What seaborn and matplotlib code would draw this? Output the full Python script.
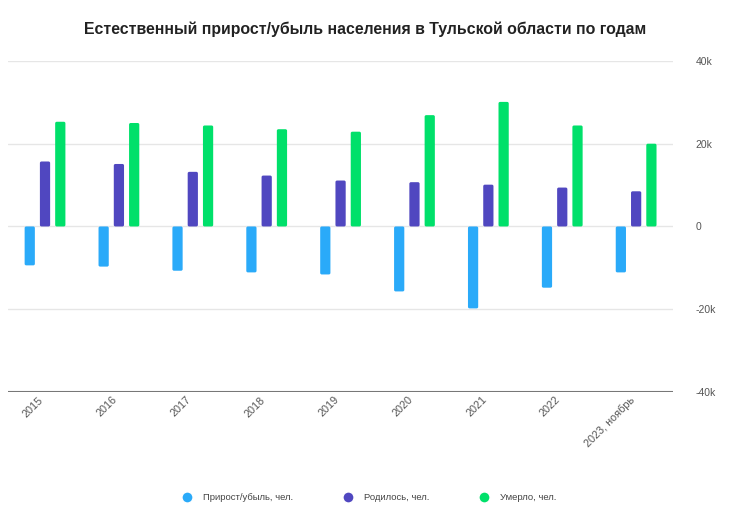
import pandas as pd
import matplotlib.pyplot as plt
import matplotlib.transforms as mtransforms
import seaborn as sns
from matplotlib.lines import Line2D
from matplotlib.patches import FancyBboxPatch

# Данные (чел.)
years = ["2015", "2016", "2017", "2018", "2019", "2020", "2021", "2022", "2023, ноябрь"]
growth = [-9400, -9700, -10700, -11100, -11600, -15700, -19800, -14800, -11100]
births = [15700, 15100, 13200, 12300, 11100, 10700, 10100, 9400, 8500]
deaths = [25300, 25000, 24400, 23500, 22900, 26900, 30100, 24400, 20000]

series = ["Прирост/убыль, чел.", "Родилось, чел.", "Умерло, чел."]
colors = ["#2aaaf9", "#5047c0", "#00e06a"]

df = pd.DataFrame({
    "year": years * 3,
    "value": growth + births + deaths,
    "series": [series[0]] * len(years) + [series[1]] * len(years) + [series[2]] * len(years),
})

sns.set_style("white")
plt.rcParams["font.family"] = ["Liberation Sans", "DejaVu Sans"]

fig = plt.figure(figsize=(7.34, 5.23), dpi=100)
ax = fig.add_axes([0.011, 0.2505, 0.906, 0.633])

sns.barplot(data=df, x="year", y="value", hue="series", palette=colors,
            width=0.62, gap=0.33, ax=ax, legend=False, saturation=1)

ax.set_ylim(-40000, 40000)
ax.set_xlim(-0.5, len(years) - 0.5)

# скруглённые концы столбиков
r = 0.022
aspect = 17000
for p in list(ax.patches):
    x, y = p.get_x(), p.get_y()
    w, h = p.get_width(), p.get_height()
    if h == 0:
        continue
    y0, hh = (y, h) if h > 0 else (y + h, -h)
    fb = FancyBboxPatch((x + r, y0 + r * aspect), w - 2 * r, hh - 2 * r * aspect,
                        boxstyle=f"round,pad={r},rounding_size={r}",
                        mutation_aspect=aspect, facecolor=p.get_facecolor(),
                        edgecolor="none", zorder=2)
    ax.add_patch(fb)
    p.remove()

ax.set_yticks([-40000, -20000, 0, 20000, 40000])
ax.set_yticklabels(["-40k", "-20k", "0", "20k", "40k"])
ax.yaxis.tick_right()
ax.tick_params(axis="y", length=0, labelsize=7.5, labelcolor="#555555", pad=16)
ax.tick_params(axis="x", length=0, labelsize=7.8, labelcolor="#555555", pad=4)
shift = mtransforms.ScaledTranslation(-5 / 72, 2 / 72, fig.dpi_scale_trans)
for lab in ax.get_xticklabels():
    lab.set_rotation(45)
    lab.set_ha("right")
    lab.set_rotation_mode("anchor")
    lab.set_transform(lab.get_transform() + shift)

for y in [-20000, 0, 20000, 40000]:
    ax.axhline(y, color="#e6e6e6", lw=1, zorder=0)
ax.axhline(-40000, color="#777777", lw=1.5, zorder=3)

for s in ax.spines.values():
    s.set_visible(False)
ax.set_xlabel("")
ax.set_ylabel("")

fig.text(0.497, 0.945, "Естественный прирост/убыль населения в Тульской области по годам",
         ha="center", va="center", fontsize=11.4, fontweight="bold", color="#222222")

handles = [Line2D([0], [0], marker="o", color="w", markerfacecolor=c, markersize=8)
           for c in colors]
fig.legend(handles, series, loc="center", bbox_to_anchor=(0.5, 0.048), ncol=3,
           frameon=False, fontsize=6.8, handletextpad=0.7, columnspacing=4.8,
           labelcolor="#444444")

fig.savefig("out.png", dpi=100)
